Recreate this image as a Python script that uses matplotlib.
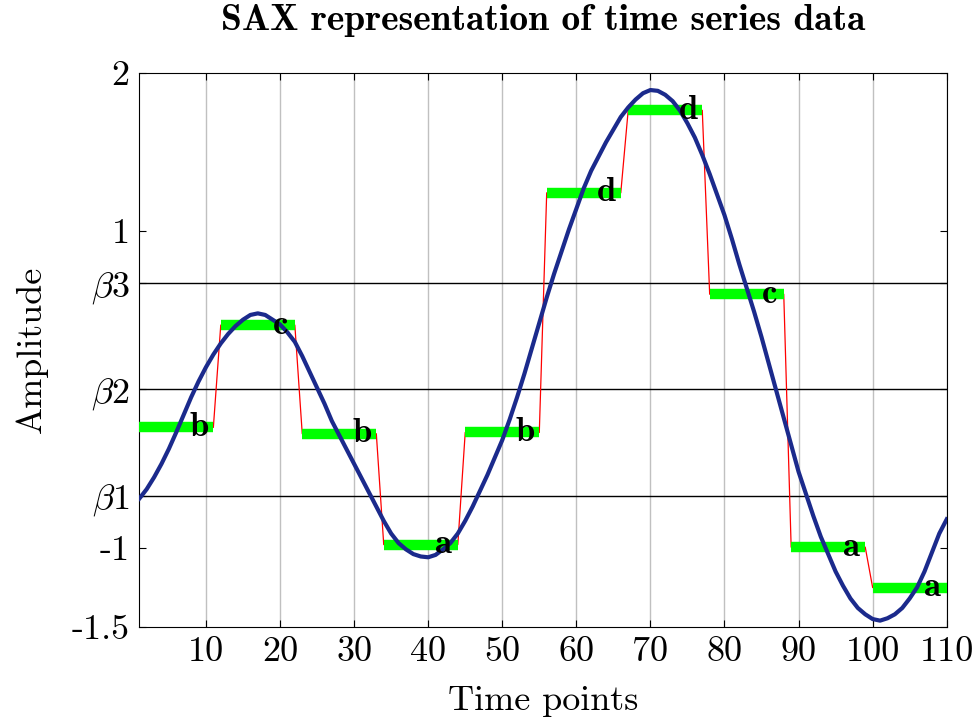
import numpy as np
import matplotlib.pyplot as plt

plt.rcParams['font.family'] = 'cmr10'
plt.rcParams['mathtext.fontset'] = 'cm'
plt.rcParams['axes.unicode_minus'] = False

# time series, one value per time point 1..110
ts_x = np.arange(1, 111)
ts_y = [-0.69, -0.63, -0.555, -0.47, -0.375, -0.27, -0.16, -0.05, 0.05, 0.14,
        0.22, 0.29, 0.35, 0.40, 0.44, 0.47, 0.48, 0.47, 0.44, 0.41,
        0.36, 0.30, 0.21, 0.11, 0.01, -0.09, -0.20, -0.29, -0.38, -0.47,
        -0.56, -0.65, -0.74, -0.83, -0.91, -0.97, -1.01, -1.04, -1.055, -1.06,
        -1.045, -1.01, -0.97, -0.91, -0.83, -0.74, -0.64, -0.54, -0.43, -0.32,
        -0.19, -0.05, 0.10, 0.26, 0.42, 0.58, 0.73, 0.87, 1.01, 1.14,
        1.27, 1.38, 1.47, 1.56, 1.64, 1.72, 1.78, 1.83, 1.87, 1.89,
        1.885, 1.86, 1.82, 1.76, 1.68, 1.59, 1.48, 1.36, 1.23, 1.10,
        0.95, 0.79, 0.64, 0.49, 0.33, 0.16, -0.01, -0.18, -0.35, -0.52,
        -0.66, -0.80, -0.93, -1.04, -1.15, -1.24, -1.32, -1.38, -1.42, -1.45,
        -1.46, -1.445, -1.42, -1.38, -1.32, -1.25, -1.15, -1.03, -0.91, -0.82]

# PAA segments and SAX symbols
seg_start = [1, 12, 23, 34, 45, 56, 67, 78, 89, 100]
seg_end = [11, 22, 33, 44, 55, 66, 77, 88, 99, 110]
paa_vals = [-0.24, 0.406, -0.28, -0.98, -0.272, 1.241, 1.762, 0.601, -0.996, -1.251]
symbols = ['b', 'c', 'b', 'a', 'b', 'd', 'd', 'c', 'a', 'a']

breakpoints = [-0.67, 0.0, 0.67]
ytick_vals = [-1.5, -1, -0.67, 0.0, 0.67, 1, 2]
ytick_labels = ['-1.5', '-1', r'$\beta1$', r'$\beta2$', r'$\beta3$', '1', '2']
xtick_vals = [10, 20, 30, 40, 50, 60, 70, 80, 90, 100, 110]

fig = plt.figure(figsize=(9.76, 7.19), dpi=100)
ax = fig.add_axes([0.1427, 0.128, 0.8273, 0.771])

for b in breakpoints:
    ax.axhline(b, color='black', lw=1.0, zorder=1)

# red step line: flat over each segment, sloped between segments
red_x, red_y = [], []
for s, e, v in zip(seg_start, seg_end, paa_vals):
    red_x += [s, e]
    red_y += [v, v]
ax.plot(red_x, red_y, color='red', lw=0.9, zorder=2)

for s, e, v in zip(seg_start, seg_end, paa_vals):
    ax.plot([s, e], [v, v], color='#00ff00', lw=7.5, solid_capstyle='butt', zorder=3)

ax.plot(ts_x, ts_y, color='#1b2a8c', lw=3.0, zorder=4)

for e, v, sym in zip(seg_end, paa_vals, symbols):
    ax.text(e - 1.9, v, sym, fontfamily='cmb10', fontsize=25, ha='center',
            va='center', zorder=5)

ax.set_xlim(1, 110)
ax.set_ylim(-1.5, 2)
ax.set_xticks(xtick_vals)
ax.set_xticklabels([str(t) for t in xtick_vals])
ax.set_yticks(ytick_vals)
ax.set_yticklabels(ytick_labels)
ax.tick_params(direction='in', top=True, right=True, length=5, labelsize=26,
               pad=7)
ax.grid(axis='x', color='#c0c0c0', lw=1.0)
ax.set_axisbelow(True)

ax.set_xlabel('Time points', fontsize=26, labelpad=12)
ax.set_ylabel('Amplitude', fontsize=26, labelpad=17)
ax.set_title('SAX representation of time series data', fontfamily='cmb10',
             fontsize=27, pad=31)

fig.savefig('out.png', dpi=100)
